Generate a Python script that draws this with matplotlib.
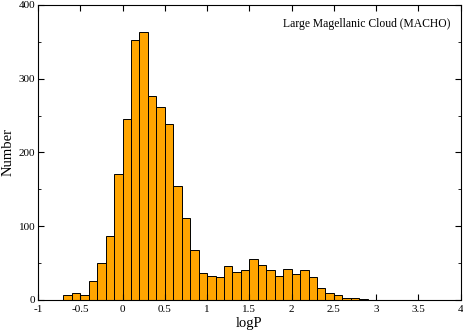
import matplotlib
matplotlib.use("Agg")
import matplotlib.pyplot as plt
import numpy as np

plt.rcParams['font.family'] = ['Liberation Serif', 'DejaVu Serif']

# left bin edges (width 0.1) and counts
bin_left = [-0.7, -0.6, -0.5, -0.4, -0.3, -0.2, -0.1, 0.0, 0.1, 0.2,
            0.3, 0.4, 0.5, 0.6, 0.7, 0.8, 0.9, 1.0, 1.1, 1.2,
            1.3, 1.4, 1.5, 1.6, 1.7, 1.8, 1.9, 2.0, 2.1, 2.2,
            2.3, 2.4, 2.5, 2.6, 2.7, 2.8]
counts = [6, 10, 7, 26, 50, 87, 171, 246, 352, 364,
          276, 261, 238, 155, 111, 67, 37, 33, 31, 46,
          38, 41, 56, 47, 41, 33, 42, 35, 41, 31,
          16, 10, 7, 3, 2, 1]
bin_width = 0.1

fig = plt.figure(figsize=(4.63, 3.31), dpi=100)
ax = fig.add_axes([0.082, 0.094, 0.913, 0.891])

ax.bar(bin_left, counts, width=bin_width, align='edge',
       color='#FFA500', edgecolor='black', linewidth=0.7)

ax.set_xlim(-1, 4)
ax.set_ylim(0, 400)
ax.set_xticks(np.arange(-1, 4.01, 0.5))
ax.set_xticklabels(['-1', '-0.5', '0', '0.5', '1', '1.5', '2', '2.5', '3', '3.5', '4'])
ax.set_yticks([0, 100, 200, 300, 400])
ax.set_yticks([50, 150, 250, 350], minor=True)
ax.tick_params(which='both', direction='in', top=True, right=True,
               labelsize=8)
ax.tick_params(axis='x', pad=4)
ax.tick_params(axis='y', pad=2)
ax.tick_params(which='major', length=4)
ax.tick_params(which='minor', length=2)
for s in ax.spines.values():
    s.set_linewidth(0.8)

ax.set_xlabel('logP', fontsize=10.5, labelpad=2)
ax.set_ylabel('Number', fontsize=10.5, labelpad=3)
ax.text(0.975, 0.955, 'Large Magellanic Cloud (MACHO)', transform=ax.transAxes,
        ha='right', va='top', fontsize=8.4)

fig.savefig('out.png', dpi=100)
